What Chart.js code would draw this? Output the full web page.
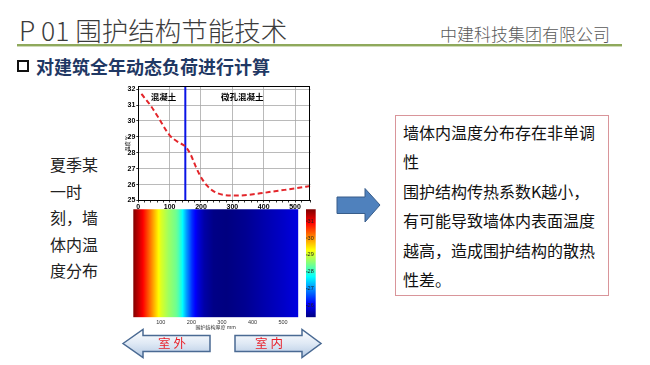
<!DOCTYPE html>
<html><head><meta charset="utf-8">
<script src="https://cdn.jsdelivr.net/npm/chart.js@4.4.1/dist/chart.umd.min.js"></script>
<style>
html,body{margin:0;padding:0;background:#fff;}
body{width:650px;height:365px;position:relative;overflow:hidden;font-family:"Noto Sans CJK SC","Noto Sans",sans-serif;}
.abs{position:absolute;white-space:nowrap;}
#title{left:19px;top:15px;font-size:26.5px;font-weight:300;color:#3c3c3c;line-height:30px;}
#company{left:440px;top:24px;font-size:17px;font-weight:300;color:#5a5a5a;line-height:20px;}
#rule{left:17px;top:44px;width:605px;height:2px;background:#8fa95c;}
#rule2{left:17px;top:46px;width:605px;height:1px;background:#cfdbb8;}
#bullet{left:17px;top:60px;width:8px;height:8px;border:2px solid #111;}
#sub{left:36px;top:55px;font-size:18px;font-weight:700;color:#1f3864;line-height:22px;}
#lefttext{left:50px;top:151px;font-size:16px;color:#222;line-height:26.5px;}
#box{left:395px;top:115px;width:214px;height:181px;border:1px solid #d9959a;box-sizing:border-box;}
#boxtext{left:403px;top:118px;font-size:16px;color:#111;line-height:29.4px;}
canvas{position:absolute;}
svg{position:absolute;left:0;top:0;}
</style></head>
<body>
<div id="title" class="abs">P 01 围护结构节能技术</div>
<div id="company" class="abs">中建科技集团有限公司</div>
<div id="rule" class="abs"></div>
<div id="rule2" class="abs"></div>
<div id="bullet" class="abs"></div>
<div id="sub" class="abs">对建筑全年动态负荷进行计算</div>
<div id="lefttext" class="abs">夏季某<br>一时<br>刻，墙<br>体内温<br>度分布</div>
<div id="box" class="abs"></div>
<div id="boxtext" class="abs">墙体内温度分布存在非单调<br>性<br>围护结构传热系数K越小，<br>有可能导致墙体内表面温度<br>越高，造成围护结构的散热<br>性差。</div>

<canvas id="c1" width="205" height="135" style="left:120px;top:78px;width:205px;height:135px"></canvas>
<canvas id="c2" width="205" height="125" style="left:120px;top:205px;width:205px;height:125px"></canvas>
<canvas id="c3" width="30" height="115" style="left:300px;top:205px;width:30px;height:115px"></canvas>

<svg width="650" height="365" viewBox="0 0 650 365">
<defs>
<linearGradient id="ag" x1="0" y1="0" x2="0" y2="1">
<stop offset="0" stop-color="#ffffff"/><stop offset="0.5" stop-color="#dfe9f5"/><stop offset="1" stop-color="#b4c9e3"/>
</linearGradient>
</defs>
<polygon points="337,197 365,197 365,188.5 380,205 365,222 365,213.5 337,213.5" fill="#4f81bd" stroke="#385d8a" stroke-width="1"/>
<polygon points="123,343.5 143,329.5 143,335.5 210,335.5 210,351.5 143,351.5 143,357.5" fill="url(#ag)" stroke="#4a6a93" stroke-width="1.5"/>
<polygon points="235,335.5 302,335.5 302,329.5 321,343.5 302,357.5 302,351.5 235,351.5" fill="url(#ag)" stroke="#4a6a93" stroke-width="1.5"/>
<text x="172" y="348" font-size="12.5" fill="#e8202a" text-anchor="middle" font-family="Noto Sans CJK SC">室 外</text>
<text x="269" y="348" font-size="12.5" fill="#e8202a" text-anchor="middle" font-family="Noto Sans CJK SC">室 内</text>
</svg>

<script>
// ---- data ----
const positions = [10, 40, 63, 100, 125, 150, 158, 168, 184, 202, 221, 242, 273, 315, 378, 441, 504, 550];
const temps     = [31.7, 30.95, 30.25, 29.1, 28.7, 28.4, 28.2, 27.85, 27.1, 26.4, 25.9, 25.56, 25.35, 25.31, 25.42, 25.6, 25.77, 25.92];
const interfaceX = 150;
const regionNames = ['混凝土', '微孔混凝土'];
const regionCenters = [80, 332];
const yTicks = [25, 26, 27, 28, 29, 30, 31, 32];
const xTicks = [0, 100, 200, 300, 400, 500];
const heatTicks = [100, 200, 300, 400, 500];
const cbTicks = [26, 27, 28, 29, 30, 31];
const cbRange = [Math.min(...temps), Math.max(...temps)];

Chart.defaults.font.family = '"Liberation Sans", Arial, sans-serif';

function clamp(v){return Math.max(0, Math.min(1, v));}
function jet(v){
  v = clamp(v);
  const r = clamp(1.5 - Math.abs(4*v - 3)), g = clamp(1.5 - Math.abs(4*v - 2)), b = clamp(1.5 - Math.abs(4*v - 1));
  return 'rgb(' + Math.round(r*255) + ',' + Math.round(g*255) + ',' + Math.round(b*255) + ')';
}
function norm(t){return (t - cbRange[0]) / (cbRange[1] - cbRange[0]);}
const jetBreaks = [0.125, 0.375, 0.625, 0.875];

function heatFill(c){
  const ch = c.chart;
  if (!ch.chartArea) return '#00008f';
  const xs = ch.scales.x;
  const p0 = positions[0], pN = positions[positions.length - 1];
  const g = ch.ctx.createLinearGradient(xs.getPixelForValue(p0), 0, xs.getPixelForValue(pN), 0);
  for (let i = 0; i < positions.length; i++) {
    const f = (positions[i] - p0) / (pN - p0), v = norm(temps[i]);
    g.addColorStop(f, jet(v));
    if (i < positions.length - 1) {
      const f2 = (positions[i+1] - p0) / (pN - p0), v2 = norm(temps[i+1]);
      const bs = jetBreaks.filter(b => (b - v) * (b - v2) < 0).sort((a, b) => v2 > v ? a - b : b - a);
      bs.forEach(b => g.addColorStop(f + (f2 - f) * (b - v) / (v2 - v), jet(b)));
    }
  }
  return g;
}
function cbFill(c){
  const ch = c.chart;
  if (!ch.chartArea) return '#00008f';
  const ys = ch.scales.y;
  const g = ch.ctx.createLinearGradient(0, ys.getPixelForValue(cbRange[0]), 0, ys.getPixelForValue(cbRange[1]));
  [0, 0.125, 0.375, 0.625, 0.875, 1].forEach(v => g.addColorStop(v, jet(v)));
  return g;
}

const boxPlugin = {
  id: 'plotBox',
  afterDraw(ch){
    const {ctx, chartArea: a} = ch;
    ctx.save();
    ctx.strokeStyle = '#000'; ctx.lineWidth = 1;
    ctx.strokeRect(Math.round(a.left) + 0.5, Math.round(a.top) + 0.5, Math.round(a.width) - 1, Math.round(a.height) - 1);
    ctx.restore();
  }
};
const regionPlugin = {
  id: 'regions',
  afterDatasetsDraw(ch){
    const {ctx} = ch;
    const xs = ch.scales.x, ys = ch.scales.y;
    ctx.save();
    ctx.font = 'bold 8.5px "Noto Sans CJK SC"';
    ctx.fillStyle = '#000'; ctx.textAlign = 'center'; ctx.textBaseline = 'middle';
    regionNames.forEach((n, i) => ctx.fillText(n, xs.getPixelForValue(regionCenters[i]), ys.getPixelForValue(31.5)));
    ctx.restore();
  }
};
const cbLabelPlugin = {
  id: 'cbLabels',
  afterDraw(ch){
    const {ctx, chartArea: a} = ch;
    const ys = ch.scales.y;
    ctx.save();
    ctx.font = '5.5px "Liberation Sans", Arial, sans-serif';
    ctx.fillStyle = '#222'; ctx.textAlign = 'right'; ctx.textBaseline = 'middle';
    ctx.strokeStyle = '#111'; ctx.lineWidth = 0.6;
    cbTicks.forEach(v => {
      const y = ys.getPixelForValue(v);
      ctx.fillText(String(v), a.right - 2, y);
      ctx.beginPath(); ctx.moveTo(a.left, y); ctx.lineTo(a.left + 1.5, y); ctx.stroke();
    });
    ctx.restore();
  }
};

new Chart(document.getElementById('c1'), {
  type: 'line',
  data: { datasets: [
    { data: positions.map((x, i) => ({x, y: temps[i]})), borderColor: '#e3262b', borderWidth: 2, borderDash: [5, 3],
      pointRadius: 0, cubicInterpolationMode: 'monotone', fill: false },
    { data: [{x: interfaceX, y: 25}, {x: interfaceX, y: 32.2}], borderColor: '#0a14e6', borderWidth: 2, pointRadius: 0 }
  ]},
  options: {
    responsive: false, animation: false, devicePixelRatio: 1,
    layout: { padding: { left: 0, right: 14.3, top: 8, bottom: 0 } },
    plugins: { legend: { display: false }, tooltip: { enabled: false } },
    scales: {
      x: { type: 'linear', min: 0, max: 550,
        ticks: { stepSize: 20, autoSkip: false, maxRotation: 0, padding: 0, color: '#000',
          font: { size: 7, weight: 'bold' }, callback: v => xTicks.includes(v) ? String(v) : '' },
        grid: { color: c => xTicks.includes(c.tick && c.tick.value) ? '#a8a8a8' : 'rgba(0,0,0,0)', tickColor: '#000', tickLength: 2, lineWidth: 0.8 },
        border: { color: '#000', width: 1 },
        afterFit: s => { s.height = 12.5; } },
      y: { min: 25, max: 32.2,
        afterBuildTicks: s => { s.ticks = yTicks.map(v => ({value: v})); },
        ticks: { padding: 1, color: '#000', font: { size: 7, weight: 'bold' } },
        grid: { color: '#a8a8a8', lineWidth: 0.8, tickLength: 2, tickColor: '#000' },
        border: { color: '#000', width: 1 },
        title: { display: true, text: '温度 ℃', color: '#000', font: { size: 5, family: '"Noto Sans CJK SC"' }, padding: { top: 4, bottom: 0 } },
        afterFit: s => { s.width = 18.3; } }
    }
  },
  plugins: [boxPlugin, regionPlugin]
});

new Chart(document.getElementById('c2'), {
  type: 'bar',
  data: { labels: ['墙体'], datasets: [{ data: [[positions[0], positions[positions.length - 1]]], backgroundColor: heatFill,
    borderWidth: 0, barPercentage: 1, categoryPercentage: 1 }] },
  options: {
    indexAxis: 'y', responsive: false, animation: false, devicePixelRatio: 1,
    layout: { padding: { left: 13.3, right: 26.7, top: 4.3, bottom: 0 } },
    plugins: { legend: { display: false }, tooltip: { enabled: false } },
    scales: {
      y: { display: false },
      x: { type: 'linear', min: positions[0], max: positions[positions.length - 1],
        afterBuildTicks: s => { s.ticks = heatTicks.map(v => ({value: v})); },
        grid: { display: false, drawTicks: false }, border: { display: false },
        ticks: { padding: 2, maxRotation: 0, color: '#333', font: { size: 5.5 } },
        title: { display: true, text: '围护结构厚度 mm', color: '#333', font: { size: 5, family: '"Noto Sans CJK SC"' }, padding: { top: 0, bottom: 0 } },
        afterFit: s => { s.height = 12.7; } }
    }
  }
});

new Chart(document.getElementById('c3'), {
  type: 'bar',
  data: { labels: ['色标'], datasets: [{ data: [cbRange], backgroundColor: cbFill, borderWidth: 0, barPercentage: 1, categoryPercentage: 1 }] },
  options: {
    responsive: false, animation: false, devicePixelRatio: 1,
    layout: { padding: { left: 6, right: 14.3, top: 4.3, bottom: 2.7 } },
    plugins: { legend: { display: false }, tooltip: { enabled: false } },
    scales: {
      x: { display: false },
      y: { position: 'right', min: cbRange[0], max: cbRange[1],
        afterBuildTicks: s => { s.ticks = cbTicks.map(v => ({value: v})); },
        ticks: { display: false },
        grid: { display: false, drawTicks: false }, border: { display: false },
        afterFit: s => { s.width = 0; } }
    }
  },
  plugins: [cbLabelPlugin]
});
</script>
</body></html>
